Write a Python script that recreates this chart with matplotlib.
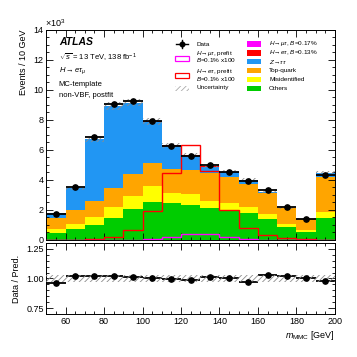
import numpy as np
import matplotlib
matplotlib.use('Agg')
import matplotlib.pyplot as plt
from matplotlib.patches import Rectangle
from matplotlib.ticker import MultipleLocator

plt.rcParams['font.family'] = ['Liberation Sans', 'DejaVu Sans']
plt.rcParams['mathtext.fontset'] = 'custom'
plt.rcParams['mathtext.rm'] = 'Liberation Sans'
plt.rcParams['mathtext.it'] = 'Liberation Sans:italic'
plt.rcParams['mathtext.bf'] = 'Liberation Sans:bold'
plt.rcParams['hatch.linewidth'] = 0.6

# bins (GeV), values in units of 10^3 events
edges = np.arange(50, 201, 10)
others = [0.48, 0.73, 0.99, 1.44, 2.05, 2.50, 2.43, 2.32, 2.10, 1.99, 1.76, 1.39, 0.84, 0.51, 1.44]
misid = [0.27, 0.33, 0.53, 0.73, 0.88, 1.08, 0.66, 0.71, 0.46, 0.46, 0.44, 0.32, 0.22, 0.15, 0.39]
top = [0.69, 0.91, 1.08, 1.29, 1.49, 1.55, 1.66, 1.65, 1.90, 1.74, 1.55, 1.38, 1.04, 0.73, 2.36]
ztt = [0.32, 1.48, 4.09, 5.44, 4.71, 2.73, 1.48, 0.89, 0.40, 0.33, 0.24, 0.12, 0.05, 0.01, 0.26]
h_et = [0.0, 0.0, 0.0, 0.002, 0.009, 0.025, 0.058, 0.082, 0.060, 0.026, 0.010, 0.004, 0.001, 0.0, 0.0]
h_mt = [0.0, 0.0, 0.0, 0.0, 0.0, 0.001, 0.004, 0.007, 0.006, 0.003, 0.001, 0.0, 0.0, 0.0, 0.0]
data = [1.70, 3.53, 6.82, 9.07, 9.22, 7.90, 6.27, 5.60, 5.00, 4.55, 3.89, 3.31, 2.20, 1.40, 4.35]
unc_frac = [0.030, 0.030, 0.028, 0.028, 0.026, 0.026, 0.026, 0.026, 0.027, 0.027, 0.028, 0.028, 0.030, 0.030, 0.030]
# prefit signals, B=0.1% x100
pre_et = [0.0, 0.0, 0.04, 0.17, 0.66, 1.90, 4.44, 6.29, 4.59, 2.01, 0.77, 0.33, 0.11, 0.05, 0.02]
pre_mt = [0.0, 0.0, 0.0, 0.01, 0.02, 0.05, 0.18, 0.38, 0.36, 0.17, 0.05, 0.02, 0.01, 0.0, 0.0]

centers = (edges[:-1] + edges[1:]) / 2
width = np.diff(edges)

c_others = '#00cc00'
c_misid = '#ffff00'
c_top = '#ffa500'
c_ztt = '#2196f3'
c_het = '#ff0000'
c_hmt = '#ff00ff'
c_hatch = '#8c8c8c'

fig = plt.figure(figsize=(3.57, 3.57), dpi=100)
ax = fig.add_axes([0.130, 0.328, 0.808, 0.589])
rax = fig.add_axes([0.130, 0.120, 0.808, 0.200])

# stack
bottom = np.zeros(len(centers))
for vals, col in [(others, c_others), (misid, c_misid), (top, c_top), (ztt, c_ztt), (h_et, c_het), (h_mt, c_hmt)]:
    ax.bar(edges[:-1], vals, width=width, bottom=bottom, align='edge', color=col, linewidth=0)
    bottom = bottom + np.array(vals)
total = bottom

# uncertainty band
unc = total * np.array(unc_frac)
ax.bar(edges[:-1], 2 * unc, width=width, bottom=total - unc, align='edge', fill=False,
       hatch='//////', edgecolor=c_hatch, linewidth=0, zorder=3)

# prefit signals
ax.stairs(pre_et, edges, color='red', linewidth=1.0, zorder=4)
ax.stairs(pre_mt, edges, color='#ff00ff', linewidth=1.0, zorder=4)

# data
ax.errorbar(centers, data, xerr=width / 2, yerr=np.sqrt(np.array(data) * 1000) / 1000,
            fmt='o', color='black', markersize=3.8, elinewidth=1.3, capsize=0, zorder=5)

ax.set_xlim(50, 200)
ax.set_ylim(0, 14)
ax.set_ylabel('Events / 10 GeV', fontsize=6.5, loc='top')
ax.tick_params(labelbottom=False)
ax.yaxis.set_major_locator(MultipleLocator(2))
ax.yaxis.set_minor_locator(MultipleLocator(0.5))

# ratio
ratio = np.array(data) / total
rax.errorbar(centers, ratio, xerr=width / 2, fmt='none', ecolor='black', elinewidth=1.3, capsize=0, zorder=2)
rax.bar(edges[:-1], 2 * np.array(unc_frac), width=width, bottom=1 - np.array(unc_frac), align='edge',
        fill=False, hatch='//////', edgecolor=c_hatch, linewidth=0, zorder=3)
rax.plot(centers, ratio, 'o', color='black', markersize=3.8, zorder=4)
rax.set_xlim(50, 200)
rax.set_ylim(0.7, 1.3)
rax.set_yticks([0.75, 1.00, 1.25])
rax.set_yticklabels(['0.75', '1.00', '1.25'])
rax.yaxis.set_minor_locator(MultipleLocator(0.05))
rax.set_ylabel('Data / Pred.', fontsize=6.5)
rax.set_xlabel(r'$m_{\mathrm{MMC}}$ [GeV]', fontsize=6.5, loc='right', labelpad=2)
rax.xaxis.set_major_locator(MultipleLocator(20))

for a in (ax, rax):
    a.xaxis.set_minor_locator(MultipleLocator(5))
    a.tick_params(which='both', direction='in', top=True, right=True, labelsize=6.5, pad=2)
    a.tick_params(which='major', length=5, width=0.6)
    a.tick_params(which='minor', length=2.5, width=0.6)
    for s in a.spines.values():
        s.set_linewidth(0.7)

fig.align_ylabels([ax, rax])

# header texts
ax.text(-0.005, 1.005, r'$\times10^3$', transform=ax.transAxes, fontsize=6.5, va='bottom', ha='left')
ax.text(0.043, 0.94, 'ATLAS', transform=ax.transAxes, fontsize=7.5, fontweight='bold', style='italic', va='center')
ax.text(0.043, 0.866, r'$\sqrt{s}$ = 13 TeV, 138 fb$^{-1}$', transform=ax.transAxes, fontsize=5.5, va='center')
ax.text(0.043, 0.803, r'$H\rightarrow e\tau_{\mu}$', transform=ax.transAxes, fontsize=5.5, va='center')
ax.text(0.043, 0.74, 'MC-template', transform=ax.transAxes, fontsize=5.5, va='center')
ax.text(0.043, 0.688, 'non-VBF, postfit', transform=ax.transAxes, fontsize=5.5, va='center')

# legend, column 1
fs = 4.6
def fy(py):
    return 1 - py / 357

fig.lines.append(plt.Line2D([176 / 357, 188 / 357], [fy(44), fy(44)], color='black', lw=1.0, transform=fig.transFigure))
fig.lines.append(plt.Line2D([182 / 357, 182 / 357], [fy(40), fy(48)], color='black', lw=1.0, transform=fig.transFigure))
fig.lines.append(plt.Line2D([182 / 357], [fy(44)], marker='o', color='black', markersize=3.3, transform=fig.transFigure))
fig.text(196 / 357, fy(44), 'Data', fontsize=fs, va='center')

fig.patches.append(Rectangle((175 / 357, fy(61)), 14 / 357, 5 / 357, fill=False, edgecolor=c_hmt, lw=0.9, transform=fig.transFigure))
fig.text(196 / 357, fy(53), r'$H\!\rightarrow\!\mu\tau$, prefit', fontsize=fs, va='center')
fig.text(196 / 357, fy(60), r'$B$=0.1% x100', fontsize=fs, va='center')

fig.patches.append(Rectangle((175 / 357, fy(78)), 14 / 357, 5 / 357, fill=False, edgecolor=c_het, lw=0.9, transform=fig.transFigure))
fig.text(196 / 357, fy(71), r'$H\!\rightarrow\!e\tau$, prefit', fontsize=fs, va='center')
fig.text(196 / 357, fy(79), r'$B$=0.1% x100', fontsize=fs, va='center')

fig.patches.append(Rectangle((175 / 357, fy(90.5)), 14 / 357, 5 / 357, fill=False, hatch='//////', edgecolor='#aaaaaa', lw=0, transform=fig.transFigure))
fig.text(196 / 357, fy(88), 'Uncertainty', fontsize=fs, va='center')

# legend, column 2
col2 = [(r'$H\!\rightarrow\!\mu\tau$, $B$=0.17%', c_hmt),
        (r'$H\!\rightarrow\!e\tau$, $B$=0.13%', c_het),
        (r'$Z\!\rightarrow\!\tau\tau$', c_ztt),
        ('Top-quark', c_top),
        ('Misidentified', c_misid),
        ('Others', c_others)]
for i, (lab, col) in enumerate(col2):
    py = 44 + i * 8.9
    fig.patches.append(Rectangle((247 / 357, fy(py + 2.6)), 14 / 357, 5.2 / 357, color=col, lw=0, transform=fig.transFigure))
    fig.text(269 / 357, fy(py), lab, fontsize=fs, va='center')

fig.savefig('out.png', dpi=100)
